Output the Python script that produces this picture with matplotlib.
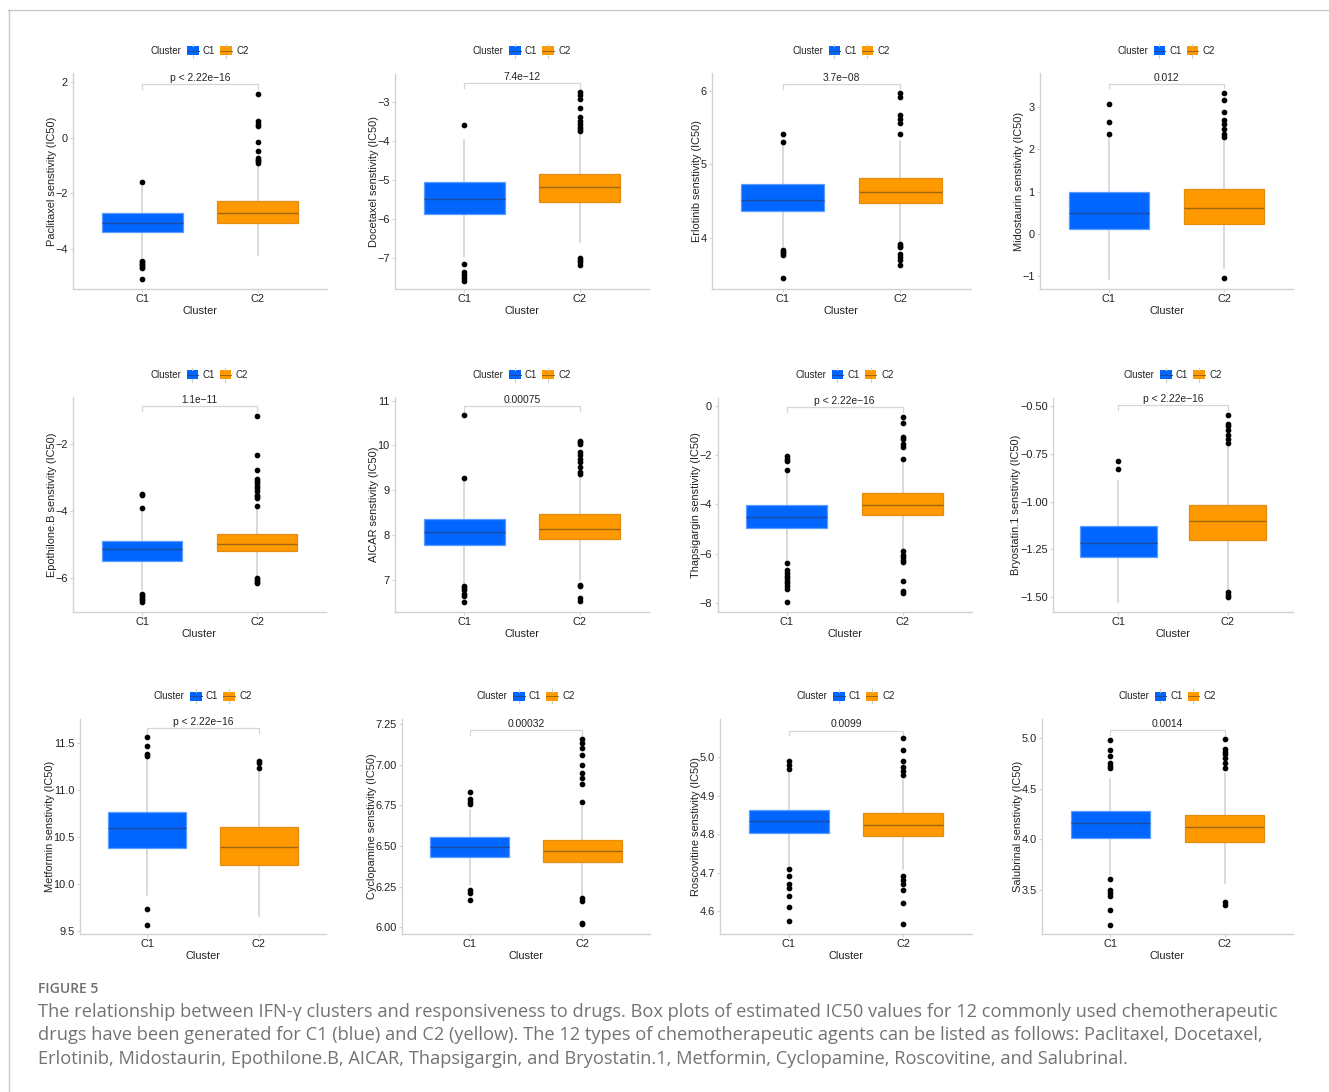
import matplotlib
matplotlib.use("Agg")
import matplotlib.pyplot as plt
from matplotlib.patches import Rectangle
from matplotlib.lines import Line2D

# ---------------- data ----------------
drugs = ["Paclitaxel", "Docetaxel", "Erlotinib", "Midostaurin",
         "Epothilone.B", "AICAR", "Thapsigargin", "Bryostatin.1",
         "Metformin", "Cyclopamine", "Roscovitine", "Salubrinal"]
groups = ["C1", "C2"]

# box statistics per drug: lower whisker, Q1, median, Q3, upper whisker
c1_lo  = [-4.30, -6.95, 3.89, -1.06, -6.30, 6.90, -6.30, -1.525, 9.89, 6.27, 4.72, 3.65]
c1_q1  = [-3.42, -5.87, 4.37,  0.12, -5.47, 7.78, -4.96, -1.29, 10.39, 6.43, 4.803, 4.01]
c1_med = [-3.09, -5.49, 4.52,  0.50, -5.13, 8.07, -4.51, -1.22, 10.60, 6.495, 4.834, 4.16]
c1_q3  = [-2.73, -5.06, 4.73,  0.99, -4.87, 8.36, -4.03, -1.13, 10.77, 6.555, 4.862, 4.28]
c1_hi  = [-1.78, -3.97, 5.26,  2.28, -4.00, 9.20, -2.75, -0.89, 11.32, 6.72, 4.96, 4.60]

c2_lo  = [-4.23, -6.59, 3.95, -0.80, -5.95, 7.00, -5.80, -1.46, 9.66, 6.20, 4.71, 3.57]
c2_q1  = [-3.09, -5.57, 4.48,  0.24, -5.19, 7.90, -4.45, -1.20, 10.20, 6.40, 4.795, 3.97]
c2_med = [-2.73, -5.18, 4.62,  0.62, -4.96, 8.14, -4.02, -1.10, 10.40, 6.47, 4.824, 4.12]
c2_q3  = [-2.30, -4.85, 4.82,  1.06, -4.68, 8.46, -3.53, -1.02, 10.61, 6.537, 4.855, 4.24]
c2_hi  = [-1.00, -3.85, 5.32,  2.25, -3.90, 9.33, -2.30, -0.71, 11.20, 6.74, 4.94, 4.65]

c1_out = [
    [-1.60, -4.45, -4.50, -4.55, -4.60, -4.65, -4.70, -5.11],
    [-3.60, -7.15, -7.35, -7.42, -7.50, -7.57],
    [5.41, 5.31, 3.83, 3.81, 3.79, 3.77, 3.45],
    [3.06, 2.65, 2.36],
    [-3.48, -3.52, -3.89, -6.45, -6.50, -6.55, -6.60, -6.65, -6.70],
    [10.67, 9.27, 6.85, 6.82, 6.77, 6.68, 6.63, 6.50],
    [-2.05, -2.15, -2.25, -2.60, -6.40, -6.65, -6.80, -6.90, -7.00, -7.10,
     -7.20, -7.30, -7.45, -7.95],
    [-0.785, -0.83],
    [11.57, 11.47, 11.39, 11.37, 9.74, 9.57],
    [6.83, 6.79, 6.77, 6.76, 6.23, 6.21, 6.17],
    [4.99, 4.98, 4.97, 4.71, 4.69, 4.67, 4.66, 4.64, 4.61, 4.575],
    [4.98, 4.88, 4.82, 4.75, 4.72, 4.70, 3.60, 3.50, 3.47, 3.44, 3.30, 3.15],
]
c2_out = [
    [1.58, 0.60, 0.50, 0.42, -0.15, -0.50, -0.75, -0.80, -0.85, -0.92],
    [-2.75, -2.83, -2.92, -3.15, -3.40, -3.50, -3.58, -3.65, -3.70, -3.76,
     -7.00, -7.05, -7.10, -7.17],
    [5.97, 5.92, 5.67, 5.62, 5.57, 5.41, 3.91, 3.89, 3.87, 3.78, 3.74, 3.69, 3.63],
    [3.33, 3.17, 2.88, 2.70, 2.60, 2.47, 2.35, 2.30, -1.04],
    [-1.15, -2.33, -2.78, -3.05, -3.10, -3.15, -3.25, -3.30, -3.40, -3.50,
     -3.55, -3.60, -3.84, -6.00, -6.05, -6.10, -6.13],
    [10.10, 10.07, 10.03, 9.85, 9.78, 9.70, 9.62, 9.52, 9.40, 9.37,
     6.88, 6.85, 6.60, 6.52],
    [-0.45, -0.70, -1.25, -1.35, -1.55, -1.65, -2.15, -5.90, -6.05, -6.15,
     -6.25, -6.35, -7.10, -7.50, -7.60],
    [-0.545, -0.59, -0.605, -0.625, -0.65, -0.67, -0.69, -1.475, -1.49, -1.50],
    [11.31, 11.29, 11.24],
    [7.16, 7.13, 7.10, 7.06, 7.00, 6.95, 6.92, 6.88, 6.77, 6.18, 6.16, 6.03, 6.02],
    [5.05, 5.02, 4.99, 4.975, 4.965, 4.955, 4.69, 4.68, 4.67, 4.655, 4.62, 4.565],
    [4.99, 4.89, 4.86, 4.84, 4.80, 4.75, 4.70, 3.38, 3.35],
]

p_labels = ["p < 2.22e\u221216", "7.4e\u221212", "3.7e\u221208", "0.012",
            "1.1e\u221211", "0.00075", "p < 2.22e\u221216", "p < 2.22e\u221216",
            "p < 2.22e\u221216", "0.00032", "0.0099", "0.0014"]
bracket_y = [1.92, -2.53, 6.10, 3.55, -0.86, 10.88, -0.04, -0.493,
             11.66, 7.21, 5.07, 5.08]

y_ticks = [
    [-4, -2, 0, 2],
    [-7, -6, -5, -4, -3],
    [4, 5, 6],
    [-1, 0, 1, 2, 3],
    [-6, -4, -2],
    [7, 8, 9, 10, 11],
    [-8, -6, -4, -2, 0],
    [-1.50, -1.25, -1.00, -0.75, -0.50],
    [9.5, 10.0, 10.5, 11.0, 11.5],
    [6.00, 6.25, 6.50, 6.75, 7.00, 7.25],
    [4.6, 4.7, 4.8, 4.9, 5.0],
    [3.5, 4.0, 4.5, 5.0],
]
tick_fmt = ["{:.0f}"] * 7 + ["{:.2f}", "{:.1f}", "{:.2f}", "{:.1f}", "{:.1f}"]

# ---------------- layout ----------------
W, H = 1329, 1092
DPI = 100
y_limits = [(-5.46, 2.31), (-7.78, -2.28), (3.30, 6.24), (-1.30, 3.79),
            (-7.00, -0.61), (6.28, 11.07), (-8.37, 0.34), (-1.58, -0.453),
            (9.47, 11.76), (5.96, 7.28), (4.54, 5.10), (3.06, 5.19)]
# panel frames in pixels: left, right, top, bottom
lefts = [73, 395, 712, 1040, 73, 395, 717.5, 1053, 80, 402, 720, 1042]
rights = [327, 649, 971, 1293, 326, 649, 972, 1293, 326, 650, 972, 1293]
row_top = [73.5, 397.5, 719]
row_bot = [289, 612, 934]

fill_cols = ["#0066FF", "#FF9900"]
edge_cols = ["#5a9cff", "#e48c10"]
med_cols = ["#1d4a9a", "#a0650f"]
whisk_col = "#cfcfcf"
axis_col = "#d2d2d2"
text_col = "#222222"
FS = 7.9

plt.rcParams['font.family'] = ['Liberation Sans', 'DejaVu Sans']
plt.rcParams['axes.unicode_minus'] = True

fig = plt.figure(figsize=(W / DPI, H / DPI), dpi=DPI)
fig.patch.set_facecolor("white")


def fx(px):
    return px / W


def fy(py):
    return 1 - py / H


box_w = 0.70
for i, drug in enumerate(drugs):
    r = i // 4
    l, rr = lefts[i], rights[i]
    t, b = row_top[r], row_bot[r]
    ax = fig.add_axes([fx(l), fy(b), fx(rr - l), (b - t) / H])
    stats = [
        dict(whislo=c1_lo[i], q1=c1_q1[i], med=c1_med[i], q3=c1_q3[i],
             whishi=c1_hi[i], fliers=c1_out[i]),
        dict(whislo=c2_lo[i], q1=c2_q1[i], med=c2_med[i], q3=c2_q3[i],
             whishi=c2_hi[i], fliers=c2_out[i]),
    ]
    for k in range(2):
        bp = ax.bxp([stats[k]], positions=[k + 1], widths=box_w,
                    patch_artist=True, showcaps=False,
                    boxprops=dict(facecolor=fill_cols[k], edgecolor=edge_cols[k],
                                  linewidth=0.9),
                    medianprops=dict(color=med_cols[k], linewidth=1.0),
                    whiskerprops=dict(color=whisk_col, linewidth=1.1),
                    flierprops=dict(marker='o', markerfacecolor='black',
                                    markeredgecolor='black', markersize=3.1,
                                    linestyle='none'))
        for w in bp['whiskers']:
            w.set_zorder(1)
        for bx in bp['boxes']:
            bx.set_zorder(2)
        for m in bp['medians']:
            m.set_zorder(3)

    ax.set_xlim(0.4, 2.6)
    ax.set_ylim(*y_limits[i])
    ax.set_xticks([1, 2])
    ax.set_xticklabels(groups)
    ax.set_yticks(y_ticks[i])
    ax.set_yticklabels([tick_fmt[i].format(v).replace("-", "\u2212")
                        for v in y_ticks[i]])
    for s in ("top", "right"):
        ax.spines[s].set_visible(False)
    for s in ("left", "bottom"):
        ax.spines[s].set_color(axis_col)
        ax.spines[s].set_linewidth(1.0)
    ax.tick_params(axis='both', colors=axis_col, labelcolor=text_col,
                   labelsize=FS, length=2.0, width=0.8, pad=1.8)
    ax.set_xlabel("Cluster", fontsize=FS, color=text_col, labelpad=1.5)
    ax.set_ylabel(f"{drug} senstivity (IC50)", fontsize=FS, color=text_col,
                  labelpad=-1.0)

    # comparison bracket with p-value
    y0, y1 = y_limits[i]
    tip = 0.022 * (y1 - y0)
    by = bracket_y[i]
    ax.plot([1, 1, 2, 2], [by - tip, by, by, by - tip], color="#d6d6d6",
            linewidth=0.9, clip_on=False, zorder=1)
    ax.annotate(p_labels[i], xy=(1.5, by), xytext=(0, 0.8),
                textcoords="offset points", ha="center", va="bottom",
                fontsize=7.4, color=text_col)

    # legend row above the panel
    cx = (l + rr) / 2
    ly = t - 23
    fig.text(fx(cx - 34), fy(ly), "Cluster", ha="center", va="center",
             fontsize=7.0, color=text_col)
    for k, (x0, tx) in enumerate(((cx - 13, cx + 9), (cx + 20, cx + 42.5))):
        fig.patches.append(Rectangle((fx(x0), fy(ly + 4.5)), 11.5 / W, 9 / H,
                                     transform=fig.transFigure,
                                     facecolor=fill_cols[k], edgecolor='none'))
        fig.lines.append(Line2D([fx(x0), fx(x0 + 11.5)], [fy(ly), fy(ly)],
                                transform=fig.transFigure, color=med_cols[k],
                                linewidth=0.7))
        for yy in ((ly - 7, ly - 4.5), (ly + 4.5, ly + 7)):
            fig.lines.append(Line2D([fx(x0 + 5.75)] * 2, [fy(yy[0]), fy(yy[1])],
                                    transform=fig.transFigure, color=whisk_col,
                                    linewidth=0.8))
        fig.text(fx(tx), fy(ly), groups[k], ha="center", va="center",
                 fontsize=7.0, color=text_col)

# outer frame lines
fig.lines.append(Line2D([fx(8), 1], [fy(9.5), fy(9.5)], transform=fig.transFigure,
                        color="#c8c8c8", linewidth=1.0))
fig.lines.append(Line2D([fx(8.5), fx(8.5)], [fy(9.5), 0], transform=fig.transFigure,
                        color="#c8c8c8", linewidth=1.0))

# caption
cap_font = ['Open Sans', 'DejaVu Sans']
fig.text(fx(38), fy(989), "FIGURE 5", ha="left", va="center", fontsize=10,
         color="#6e6e6e", family=cap_font, fontweight="semibold")
caption = [
    "The relationship between IFN-\u03b3 clusters and responsiveness to drugs. "
    "Box plots of estimated IC50 values for 12 commonly used chemotherapeutic",
    "drugs have been generated for C1 (blue) and C2 (yellow). The 12 types of "
    "chemotherapeutic agents can be listed as follows: Paclitaxel, Docetaxel,",
    "Erlotinib, Midostaurin, Epothilone.B, AICAR, Thapsigargin, and Bryostatin.1, "
    "Metformin, Cyclopamine, Roscovitine, and Salubrinal.",
]
for j, line in enumerate(caption):
    fig.text(fx(38), fy(1012 + 23.5 * j), line, ha="left", va="center",
             fontsize=13.15, color="#737373", family=cap_font)

fig.savefig("out.png", dpi=DPI, facecolor="white")
